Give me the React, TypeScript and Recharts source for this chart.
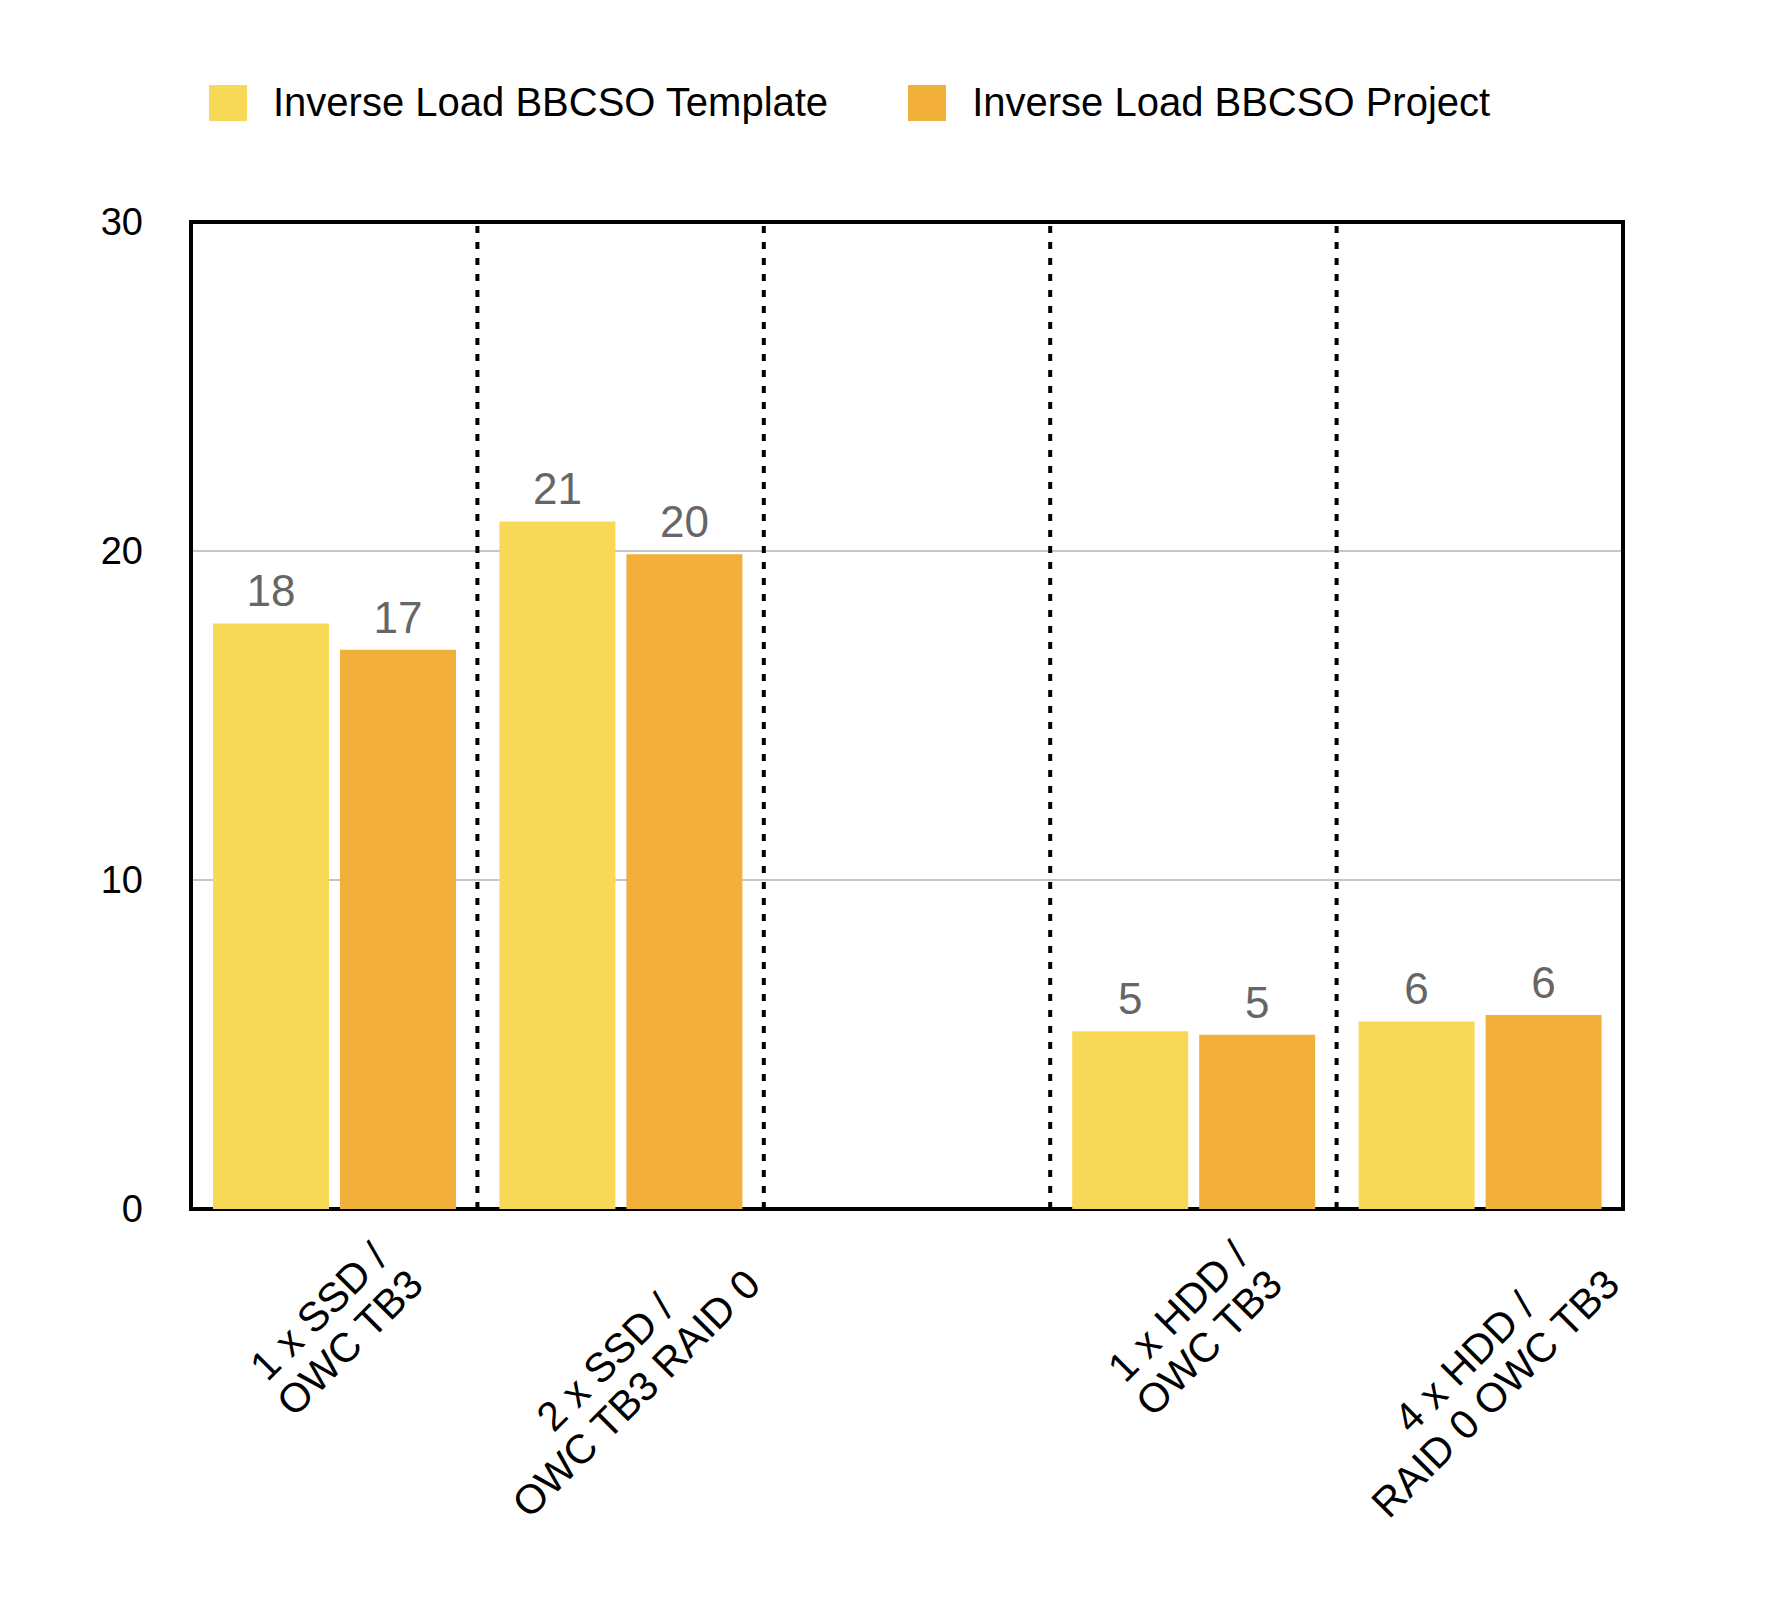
import React from 'react';
import {
  BarChart,
  Bar,
  XAxis,
  YAxis,
  CartesianGrid,
  ReferenceLine,
  ReferenceArea,
  Legend,
  LabelList,
} from 'recharts';

const categories = [
  '1 x SSD /\nOWC TB3',
  '2 x SSD /\nOWC TB3 RAID 0',
  ' ',
  '1 x HDD /\nOWC TB3',
  '4 x HDD /\nRAID 0 OWC TB3',
];
const templateValues = [17.8, 20.9, null, 5.4, 5.7];
const projectValues = [17.0, 19.9, null, 5.3, 5.9];
const yTicks = [0, 10, 20, 30];
const seriesNames = ['Inverse Load BBCSO Template', 'Inverse Load BBCSO Project'];
const seriesColors = ['#F8D857', '#F2AF3C'];

const FONT = '"Liberation Sans", Arial, Helvetica, sans-serif';
const LABEL_SIZE = 41;
const LINE_H = 44;

const data = categories.map((name, i) => ({
  name,
  template: templateValues[i],
  project: projectValues[i],
}));

// dashed separators at the start of every category but the first
const separators = categories.slice(1);

let ctx: CanvasRenderingContext2D | null = null;
function measure(text: string): number {
  if (!ctx) {
    ctx = document.createElement('canvas').getContext('2d');
  }
  if (!ctx) return text.length * LABEL_SIZE * 0.55;
  ctx.font = `${LABEL_SIZE}px ${FONT}`;
  return ctx.measureText(text).width;
}

const CategoryTick = (props: any) => {
  const { x, y, payload } = props;
  const lines = String(payload.value)
    .split('\n')
    .filter((l) => l.trim());
  if (!lines.length) return null;
  const w = Math.max(...lines.map(measure));
  const h = lines.length * LINE_H;
  const cy = y + 21 + ((w + h) * Math.SQRT1_2) / 2;
  return (
    <g transform={`translate(${x},${cy}) rotate(-45)`}>
      {lines.map((line, i) => (
        <text
          key={i}
          x={0}
          y={(i - (lines.length - 1) / 2) * LINE_H}
          textAnchor="middle"
          dominantBaseline="central"
          fill="#000"
          fontSize={LABEL_SIZE}
          fontFamily={FONT}
        >
          {line}
        </text>
      ))}
    </g>
  );
};

const LegendContent = (props: any) => {
  const items = [...(props.payload || [])].sort(
    (a: any, b: any) => seriesNames.indexOf(a.value) - seriesNames.indexOf(b.value)
  );
  return (
    <div
      style={{
        display: 'flex',
        alignItems: 'center',
        paddingLeft: 201,
        paddingTop: 72,
        fontFamily: FONT,
        fontSize: 40,
        color: '#000',
      }}
    >
      {items.map((entry: any, i: number) => (
        <div
          key={i}
          style={{ display: 'flex', alignItems: 'center', marginRight: 80 }}
        >
          <span
            style={{
              width: 38,
              height: 36,
              background: entry.color,
              display: 'inline-block',
              marginRight: 26,
            }}
          />
          <span>{entry.value}</span>
        </div>
      ))}
    </div>
  );
};

export default function App() {
  return (
    <div style={{ width: 1774, height: 1602 }}>
      <BarChart
        width={1774}
        height={1602}
        data={data}
        margin={{ top: 214, right: 159, left: 83, bottom: 101 }}
        barCategoryGap={22}
        barGap={11}
      >
        <CartesianGrid
          horizontal
          vertical={false}
          stroke="#b3b3b3"
          strokeWidth={1.5}
        />
        <Legend
          verticalAlign="middle"
          wrapperStyle={{ top: 0, left: 0, width: 1774 }}
          content={<LegendContent />}
        />
        <Bar
          dataKey="template"
          name={seriesNames[0]}
          fill={seriesColors[0]}
          isAnimationActive={false}
        >
          <LabelList
            dataKey="template"
            position="top"
            offset={17}
            fill="#666"
            fontSize={44}
            fontFamily={FONT}
            formatter={(v: any) => (v == null ? '' : Math.round(v))}
          />
        </Bar>
        <Bar
          dataKey="project"
          name={seriesNames[1]}
          fill={seriesColors[1]}
          isAnimationActive={false}
        >
          <LabelList
            dataKey="project"
            position="top"
            offset={17}
            fill="#666"
            fontSize={44}
            fontFamily={FONT}
            formatter={(v: any) => (v == null ? '' : Math.round(v))}
          />
        </Bar>
        {separators.map((s) => (
          <ReferenceLine
            key={s}
            x={s}
            position="start"
            stroke="#000"
            strokeWidth={4}
            strokeDasharray="7 9"
          />
        ))}
        <ReferenceArea
          y1={0}
          y2={30}
          fill="none"
          stroke="#000"
          strokeWidth={4}
          ifOverflow="visible"
        />
        <XAxis
          dataKey="name"
          interval={0}
          height={300}
          tickSize={0}
          tickMargin={0}
          tickLine={false}
          axisLine={false}
          tick={<CategoryTick />}
        />
        <YAxis
          domain={[0, 30]}
          ticks={yTicks}
          width={100}
          tickSize={0}
          tickMargin={48}
          tickLine={false}
          axisLine={false}
          tick={{ fill: '#000', fontSize: 38, fontFamily: FONT }}
        />
      </BarChart>
    </div>
  );
}
